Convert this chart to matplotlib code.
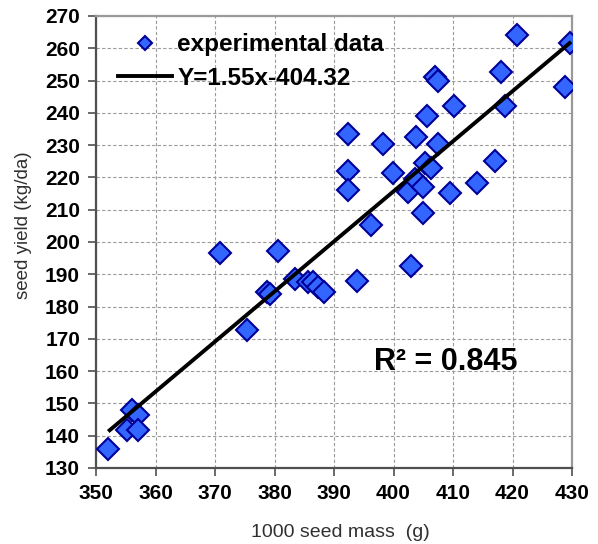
import matplotlib
matplotlib.use("Agg")
import matplotlib.pyplot as plt

plt.rcParams['font.family'] = ['Liberation Sans', 'DejaVu Sans']

# data
seed_mass = [352.1, 355.2, 356.1, 357.0, 357.1, 370.9, 375.3, 378.7, 379.3, 380.6,
             383.5, 385.7, 386.5, 387.3, 388.3, 392.4, 392.4, 392.4, 393.8, 396.3,
             398.3, 399.9, 402.5, 403.0, 403.8, 403.6, 405.0, 405.0, 405.3, 406.3,
             405.7, 406.9, 407.4, 407.5, 409.5, 410.1, 414.0, 417.1, 418.1, 418.7,
             420.8, 428.8, 429.6]
seed_yield = [135.8, 141.8, 148.0, 146.5, 141.8, 196.5, 172.8, 184.6, 183.8, 197.3,
              188.5, 187.7, 187.5, 186.0, 184.6, 233.5, 222.1, 216.1, 188.0, 205.3,
              230.4, 221.3, 215.6, 192.7, 232.6, 219.5, 217.1, 209.0, 224.4, 222.8,
              239.1, 251.2, 250.0, 230.5, 215.2, 242.1, 218.2, 225.2, 252.8, 242.1,
              264.1, 248.1, 261.5]
trend_x = [352.3, 429.6]
trend_y = [141.7, 261.6]
x_ticks = [350, 360, 370, 380, 390, 400, 410, 420, 430]
y_ticks = list(range(130, 271, 10))

fig = plt.figure(figsize=(5.98, 5.44), dpi=100)
ax = fig.add_axes([96/598, 1-468/544, 476/598, 452/544])

ax.set_xlim(350, 430)
ax.set_ylim(130, 270)
ax.set_xticks(x_ticks)
ax.set_yticks(y_ticks)
ax.grid(True, color='#9a9a9a', linestyle=(0, (3, 2)), linewidth=0.8)
ax.set_axisbelow(True)

ax.plot(seed_mass, seed_yield, linestyle='none', marker='D', markersize=11.5,
        markerfacecolor='#3366ff', markeredgecolor='#000099', markeredgewidth=1.5,
        zorder=3, label='experimental data')
ax.plot(trend_x, trend_y, color='black', linewidth=2.8, zorder=4,
        label='Y=1.55x-404.32')

for s in ['left', 'bottom']:
    ax.spines[s].set_color('#505050')
    ax.spines[s].set_linewidth(1.6)
for s in ['top', 'right']:
    ax.spines[s].set_color('#999999')
    ax.spines[s].set_linewidth(1.6)

ax.tick_params(axis='both', direction='out', length=5.5, width=1.2, color='#505050',
               labelsize=15, pad=6)
for lab in ax.get_xticklabels() + ax.get_yticklabels():
    lab.set_fontweight('bold')

ax.set_xlabel('1000 seed mass  (g)', fontsize=14, color='#303030', va='top')
ax.set_ylabel('seed yield (kg/da)', fontsize=13.5, color='#303030')
ax.xaxis.set_label_coords(0.513, -0.124)
ax.yaxis.set_label_coords(-0.134, 0.538)

ax.text(0.735, 0.235, 'R² = 0.845', transform=ax.transAxes, fontsize=22,
        fontweight='bold', ha='center', va='center')

leg = ax.legend(loc='upper left', bbox_to_anchor=(0.01, 1.0), frameon=False,
                prop={'size': 17.5, 'weight': 'bold'}, handlelength=2.25,
                handletextpad=0.2, labelspacing=0.45, markerscale=0.6,
                borderaxespad=0.3)

fig.savefig('out.png', dpi=100)
